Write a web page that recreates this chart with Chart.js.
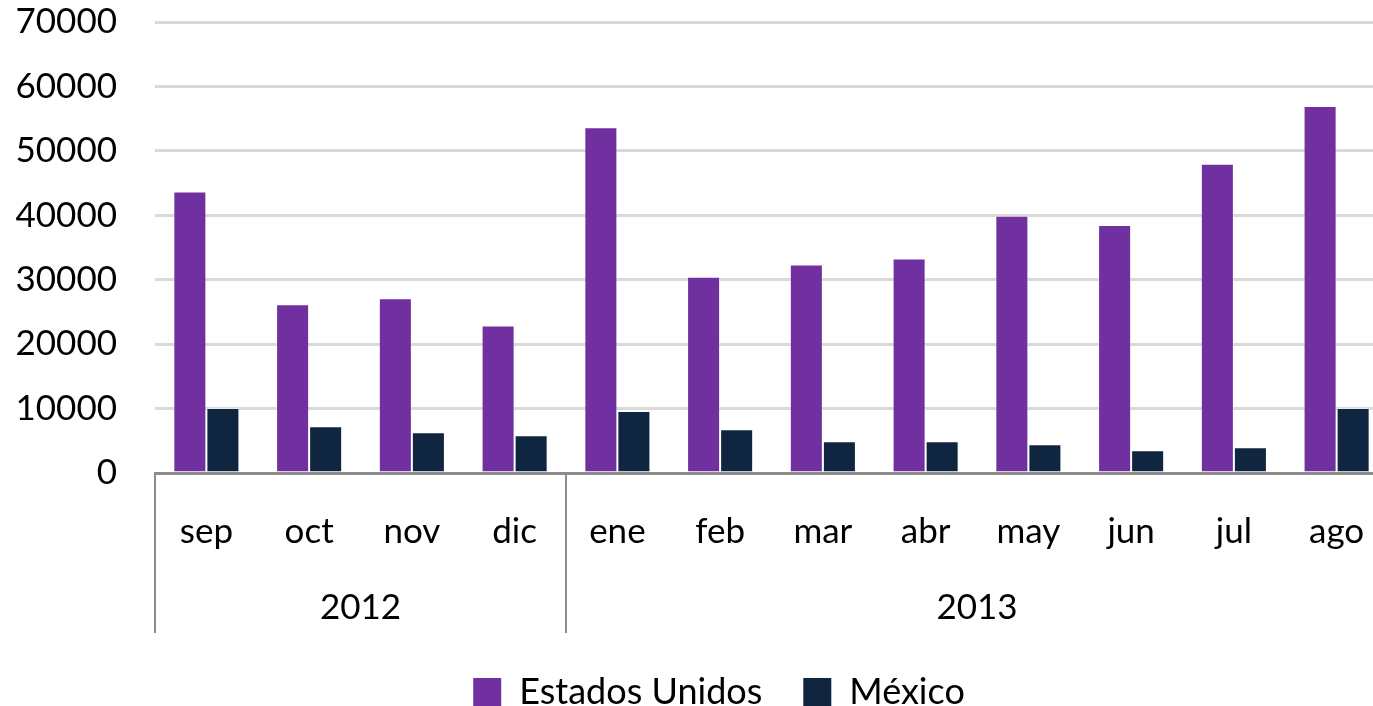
<!DOCTYPE html>
<html>
<head>
<meta charset="utf-8">
<script src="https://cdn.jsdelivr.net/npm/chart.js@4.4.1/dist/chart.umd.min.js"></script>
<style>
  html, body { margin: 0; padding: 0; background: #fff; overflow: hidden; }
  #wrap { position: absolute; left: 0; top: 0; width: 1436px; height: 720px; }
</style>
</head>
<body>
<div id="wrap"><canvas id="c"></canvas></div>
<script>
const months = ['sep','oct','nov','dic','ene','feb','mar','abr','may','jun','jul','ago'];
const yearLabels = ['2012','2013'];
const yearSpans = [4, 8];
const estadosUnidos = [43700, 26210, 27140, 22890, 53650, 30450, 32370, 33300, 39930, 38490, 48010, 56970];
const mexico = [10100, 7250, 6320, 5850, 9630, 6790, 4920, 4920, 4460, 3520, 3990, 10100];
const yTicks = [0, 10000, 20000, 30000, 40000, 50000, 60000, 70000];

const FONT = 'Lato';
const SEP_COLOR = '#8c8c8c';

const groupPlugin = {
  id: 'groupAxis',
  afterLayout(chart) {
    // shift the legend band so it is centred like the original
    chart.legend.left = 50;
  },
  afterDraw(chart) {
    const xs = chart.scales.x;
    const ctx = chart.ctx;
    const bounds = [chart.chartArea.left];
    let idx = 0;
    yearSpans.forEach(span => {
      idx += span;
      if (idx < months.length) {
        bounds.push((xs.getPixelForValue(idx - 1) + xs.getPixelForValue(idx)) / 2);
      } else {
        bounds.push(chart.chartArea.right);
      }
    });
    ctx.save();
    ctx.strokeStyle = SEP_COLOR;
    ctx.lineWidth = 2;
    bounds.forEach(b => {
      ctx.beginPath();
      ctx.moveTo(Math.round(b), xs.top);
      ctx.lineTo(Math.round(b), xs.bottom);
      ctx.stroke();
    });
    ctx.fillStyle = '#000';
    ctx.font = '35px ' + FONT;
    ctx.textAlign = 'center';
    ctx.textBaseline = 'middle';
    yearLabels.forEach((lab, i) => {
      const cx = (bounds[i] + bounds[i + 1]) / 2;
      ctx.fillText(lab, cx, xs.top + 135);
    });
    ctx.restore();
  }
};

new Chart(document.getElementById('c'), {
  type: 'bar',
  data: {
    labels: months,
    datasets: [
      { label: 'Estados Unidos', data: estadosUnidos, backgroundColor: '#7030a0', borderColor: 'rgba(255,255,255,0.35)', borderWidth: 1 },
      { label: 'México', data: mexico, backgroundColor: '#10253f', borderColor: 'rgba(255,255,255,0.35)', borderWidth: 1 }
    ]
  },
  plugins: [groupPlugin],
  options: {
    responsive: true,
    maintainAspectRatio: false,
    animation: false,
    layout: { padding: { left: 0, right: 48, top: 22, bottom: 0 } },
    datasets: { bar: { categoryPercentage: 0.643, barPercentage: 1.0 } },
    plugins: {
      tooltip: { enabled: false },
      legend: {
        position: 'bottom',
        labels: {
          font: { family: FONT, size: 36 },
          color: '#000',
          boxWidth: 28,
          boxHeight: 28,
          padding: 41,
          generateLabels(chart) {
            return chart.data.datasets.map((ds, i) => ({
              text: ds.label, fillStyle: ds.backgroundColor, strokeStyle: ds.backgroundColor,
              lineWidth: 0, hidden: false, datasetIndex: i, fontColor: '#000'
            }));
          }
        }
      }
    },
    scales: {
      x: {
        grid: { display: false },
        border: { display: true, color: SEP_COLOR, width: 3 },
        ticks: { font: { family: FONT, size: 35 }, color: '#000', padding: 30, maxRotation: 0 },
        afterFit(scale) { scale.height = 160; }
      },
      y: {
        min: 0, max: 70000,
        afterBuildTicks(scale) { scale.ticks = yTicks.map(v => ({ value: v })); },
        grid: { color: '#d9d9d9', lineWidth: 3, drawTicks: false },
        border: { display: false },
        ticks: { font: { family: FONT, size: 35 }, color: '#000', padding: 38, callback: v => String(v) },
        afterFit(scale) { scale.width = 155; scale.paddingTop = 0; scale.paddingBottom = 0; }
      }
    }
  }
});
</script>
</body>
</html>
